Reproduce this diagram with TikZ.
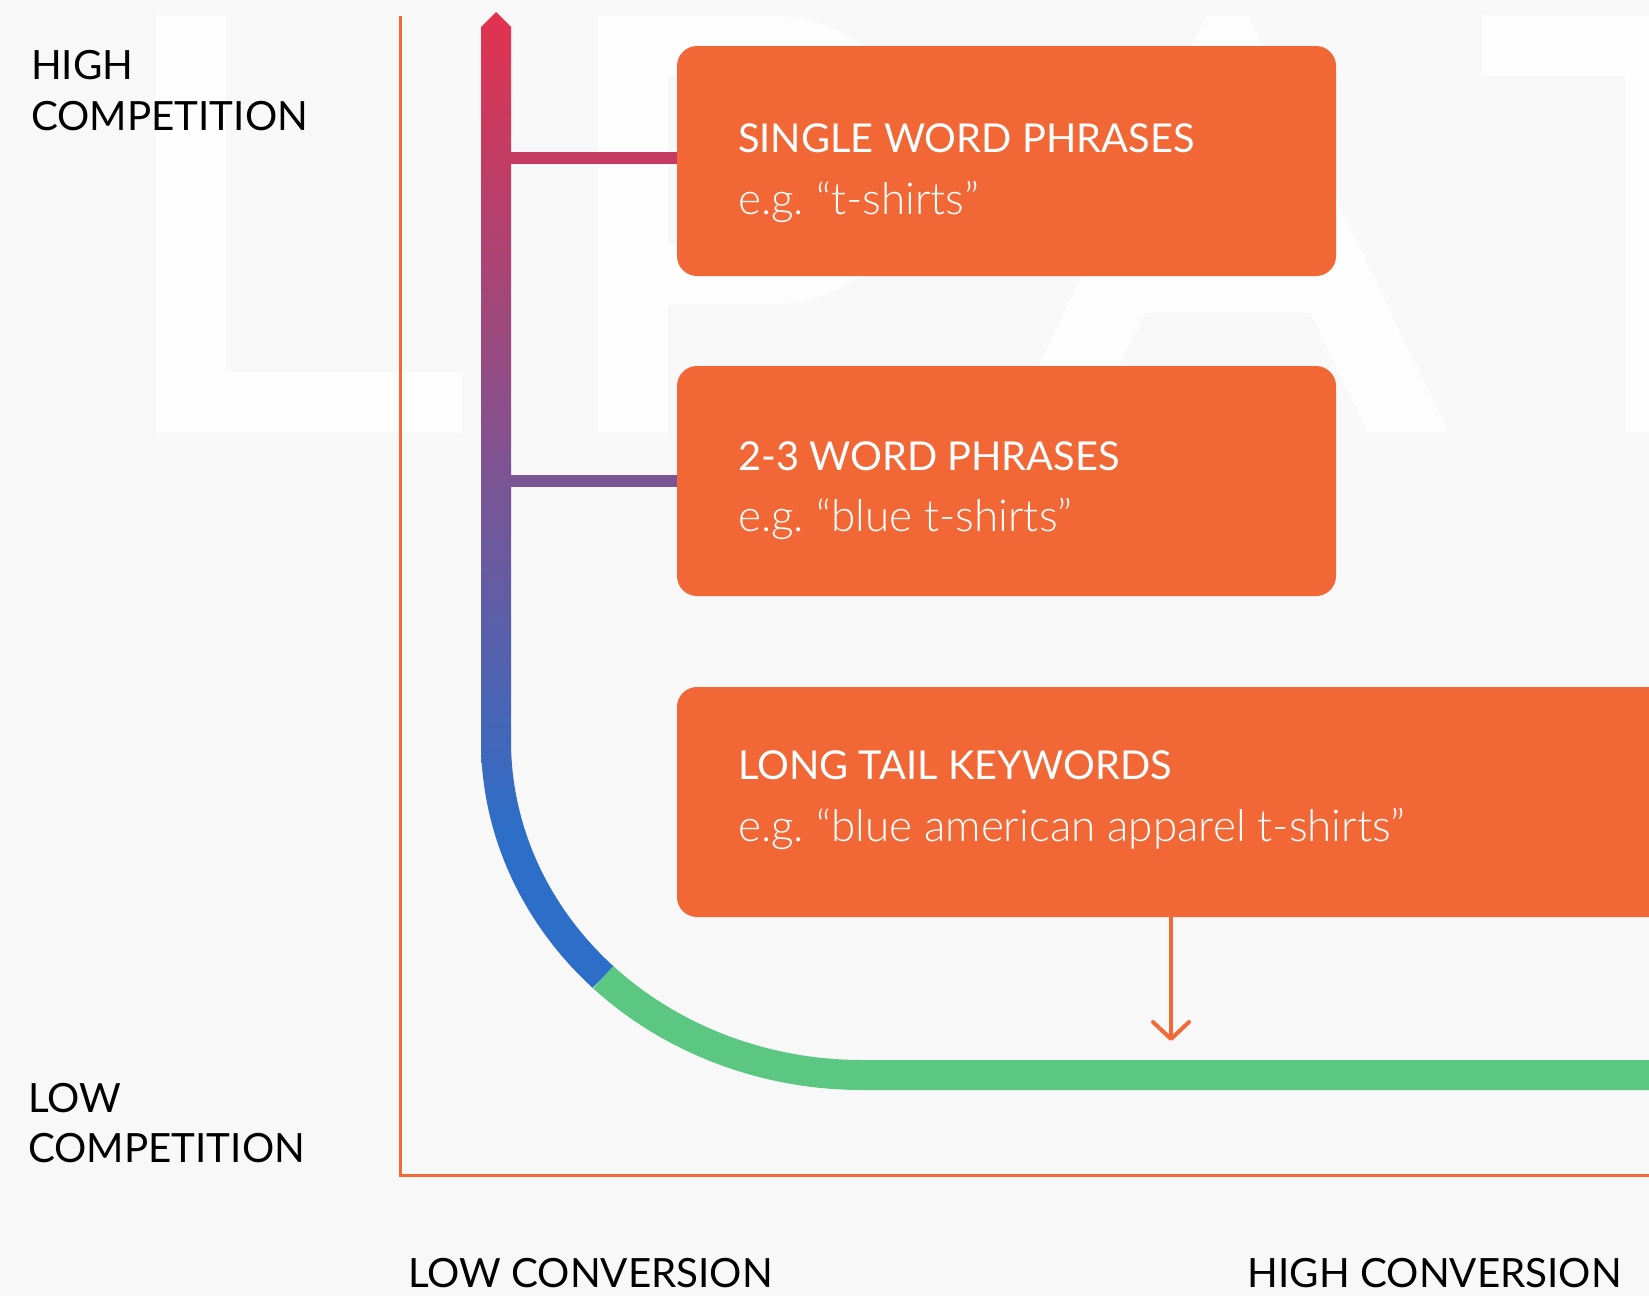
\documentclass[tikz,border=0pt]{standalone}
\usepackage{fontspec}
\setmainfont{Lato}
\newfontfamily\lightfont{Lato Light}
\usetikzlibrary{arrows.meta,calc}

\definecolor{bg}{HTML}{F8F8F8}
\definecolor{ghost}{HTML}{FDFDFD}
\definecolor{boxorange}{HTML}{F16736}
\definecolor{axisorange}{HTML}{F26A37}
\definecolor{barred}{HTML}{E3324F}
\definecolor{barblue}{HTML}{2D6EC8}
\definecolor{tailgreen}{HTML}{5CC782}
\definecolor{linkred}{HTML}{C63B63}
\definecolor{linkpurple}{HTML}{7C5594}

% red at the top of the bar fading linearly into blue along the bend
\pgfdeclareverticalshading{barshade}{100bp}{%
  color(0bp)=(barblue); color(33bp)=(barblue);
  color(75bp)=(barred); color(100bp)=(barred)}

\frenchspacing
\begin{document}
\begin{tikzpicture}[x=1pt,y=-1pt,
  ghostmark/.style={fill=ghost},
  axisline/.style={draw=axisorange,line width=3pt},
  kwbox/.style={fill=boxorange,rounded corners=20pt,inner sep=0pt,
    minimum height=230pt},
  kwtitle/.style={anchor=base west,inner sep=0pt,text=white,
    font=\fontsize{39.8}{48}\selectfont},
  kwexample/.style={anchor=base west,inner sep=0pt,text=white,
    font=\lightfont\fontsize{44}{52}\selectfont},
  axislabel/.style={anchor=base west,inner sep=0pt,text=black,
    font=\fontsize{40.3}{50}\selectfont},
  link/.style={line width=12pt},
  tail/.style={draw=tailgreen,line width=30pt},
  pointer/.style={draw=axisorange,line width=4pt,
    -{Straight Barb[length=17pt,width=36pt,round]}}]

\useasboundingbox (0,0) rectangle (1649,1296);
\fill[bg] (0,0) rectangle (1649,1296);
\clip (0,0) rectangle (1649,1296);

% faint lettering in the background
\fill[ghostmark] (156,15) -- (226,15) -- (226,372) -- (462,372) -- (462,433)
  -- (156,433) -- cycle;
\fill[ghostmark,even odd rule] (598,15) -- (760,15)
  .. controls (850,15) and (905,60) .. (905,160)
  .. controls (905,260) and (850,305) .. (760,305) -- (668,305) -- (668,433)
  -- (598,433) -- cycle
  (668,76) -- (755,76) .. controls (815,76) and (842,105) .. (842,160)
  .. controls (842,215) and (815,244) .. (755,244) -- (668,244) -- cycle;
\fill[ghostmark,even odd rule] (1006,433) -- (1207,15) -- (1248,15)
  -- (1449,433) -- (1368,433) -- (1310,313) -- (1145,313) -- (1087,433) -- cycle
  (1227.5,140) -- (1282,255) -- (1173,255) -- cycle;
\fill[ghostmark] (1482,15) -- (1660,15) -- (1660,433) -- (1625,433)
  -- (1625,76) -- (1482,76) -- cycle;

% axes
\coordinate (ytop) at (400.5,16);
\coordinate (origin) at (400.5,1175);
\coordinate (xend) at (1660,1175);
\draw[axisline] (ytop) -- (origin) -- (xend);

% keyword boxes
\node[kwbox,minimum width=659pt] (b1) at (1006.5,161) {};
\node[kwbox,minimum width=659pt] (b2) at (1006.5,481) {};
\node[kwbox,minimum width=1023pt] (b3) at (1188.5,802) {};

\node[kwtitle] (t1) at (738,152.7) {SINGLE WORD PHRASES};
\node[kwexample] (e1) at (738,214) {e.g. “t-shirts”};
\node[kwtitle] (t2) at (738,470) {2-3 WORD PHRASES};
\node[kwexample] (e2) at (738,531.7) {e.g. “blue t-shirts”};
\node[kwtitle] (t3) at (738,779.3) {LONG TAIL KEYWORDS};
\node[kwexample] (e3) at (738,841.7) {e.g. “blue american apparel t-shirts”};

% competition scale: straight shaft with arrow head, bending into the tail
\shade[shading=barshade] (496,12) -- (511,27) -- (511,741)
  arc[start angle=180,end angle=135,x radius=351,y radius=319]
  -- ($(862,741)+(135:381 and 349)$)
  arc[start angle=135,end angle=180,x radius=381,y radius=349]
  -- (481,27) -- cycle;
\draw[tail] ($(862,741)+(135:366 and 334)$)
  arc[start angle=135,end angle=90,x radius=366,y radius=334] -- (1660,1075);

% links from the scale to the boxes
\coordinate (j1) at (511,158);
\coordinate (j2) at (511,481);
\draw[link,draw=linkred] (j1) -- (j1 -| b1.west);
\draw[link,draw=linkpurple] (j2) -- (j2 -| b2.west);

% pointer from the long tail box down to the tail
\coordinate (tip) at (1171,1041);
\draw[pointer] (tip |- b3.south) -- (tip);

% axis labels
\node[axislabel] (hc1) at (31,79) {HIGH};
\node[axislabel] (hc2) at (31,130) {COMPETITION};
\node[axislabel] (lc1) at (28,1112) {LOW};
\node[axislabel] (lc2) at (28,1162) {COMPETITION};
\node[axislabel] (lconv) at (408,1287) {LOW CONVERSION};
\node[axislabel,anchor=base east] (hconv) at (1622,1287) {HIGH CONVERSION};
\end{tikzpicture}
\end{document}
